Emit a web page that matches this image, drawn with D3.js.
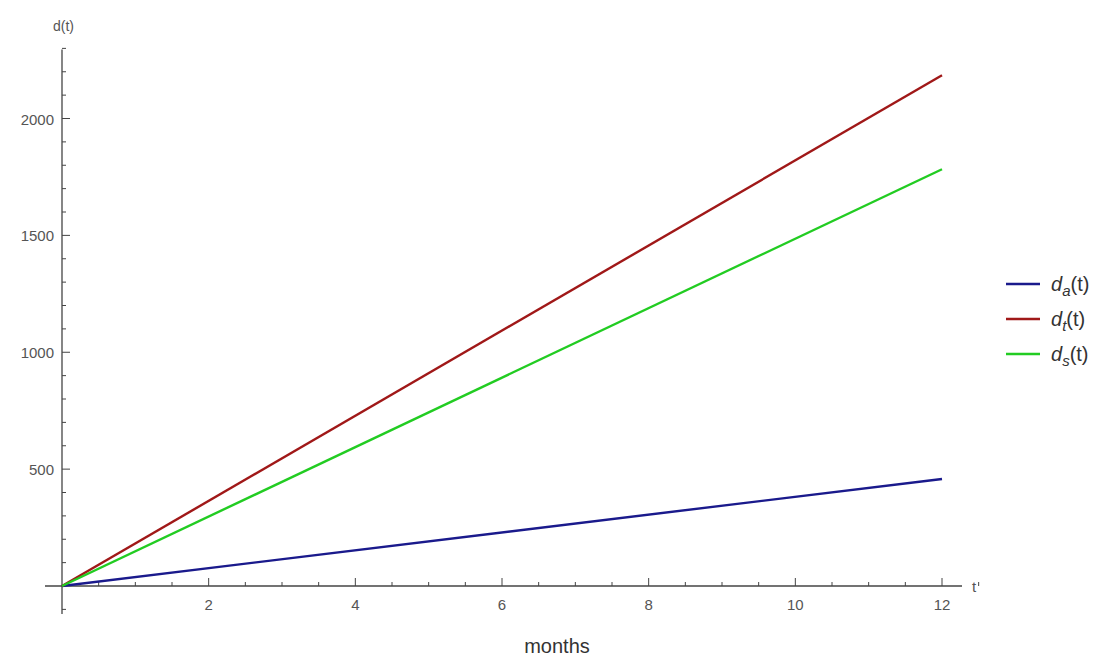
<!DOCTYPE html>
<html><head><meta charset="utf-8">
<script src="https://cdn.jsdelivr.net/npm/d3@7"></script>
<style>body{margin:0;background:#fff}text{font-family:Arial,"Liberation Sans",sans-serif}</style>
</head><body><svg id="c" width="1109" height="664"></svg>
<script>
const months = [0, 12];
const seriesNames = ["a", "t", "s"];
const da = [0, 458];
const dt = [0, 2185];
const ds = [0, 1783];
const colors = ["#1a1a8c", "#a01818", "#22cc22"];
const xTicks = [2, 4, 6, 8, 10, 12];
const yTicks = [500, 1000, 1500, 2000];

const svg = d3.select("#c");
const x = d3.scaleLinear().domain([0, 12]).range([62, 942]);
const y = d3.scaleLinear().domain([0, 2000]).range([586, 118.5]);
const axc = "#444";

svg.append("line").attr("x1", 45).attr("x2", 962).attr("y1", y(0)).attr("y2", y(0)).attr("stroke", axc).attr("stroke-width", 1.3);
d3.range(0.5, 12.6, 0.5).forEach(v => {
  const major = Math.abs(v % 2) < 1e-9;
  svg.append("line").attr("x1", x(v)).attr("x2", x(v)).attr("y1", y(0)).attr("y2", y(0) - (major ? 8 : 4)).attr("stroke", axc).attr("stroke-width", 1);
});
xTicks.forEach(v => svg.append("text").attr("x", x(v)).attr("y", y(0) + 24).attr("text-anchor", "middle").attr("font-size", 15).attr("fill", "#555").text(v));
svg.append("text").attr("x", 972).attr("y", y(0) + 6).attr("font-size", 15).attr("fill", "#555").text("t");
svg.append("text").attr("x", 557).attr("y", 653).attr("text-anchor", "middle").attr("font-size", 20).attr("fill", "#333").text("months");

svg.append("line").attr("x1", x(0)).attr("x2", x(0)).attr("y1", y(2295)).attr("y2", y(-120)).attr("stroke", axc).attr("stroke-width", 1.3);
d3.range(-100, 2301, 100).forEach(v => {
  if (v === 0) return;
  const major = v % 500 === 0;
  svg.append("line").attr("x1", x(0)).attr("x2", x(0) + (major ? 8 : 4)).attr("y1", y(v)).attr("y2", y(v)).attr("stroke", axc).attr("stroke-width", 1);
});
yTicks.forEach(v => svg.append("text").attr("x", x(0) - 8).attr("y", y(v) + 6).attr("text-anchor", "end").attr("font-size", 15).attr("fill", "#555").text(v));
svg.append("text").attr("x", x(0) + 12).attr("y", 31).attr("text-anchor", "end").attr("font-size", 14).attr("fill", "#555").text("d(t)");

const line = d3.line().x((d, i) => x(months[i])).y(d => y(d));
[da, dt, ds].forEach((s, i) => svg.append("path").datum(s).attr("d", line).attr("fill", "none").attr("stroke", colors[i]).attr("stroke-width", 2.4));

seriesNames.forEach((n, i) => {
  const ly = 284 + i * 35;
  svg.append("line").attr("x1", 1006).attr("x2", 1040).attr("y1", ly).attr("y2", ly).attr("stroke", colors[i]).attr("stroke-width", 2.4);
  const t = svg.append("text").attr("x", 1051).attr("y", ly + 7).attr("font-size", 20).attr("fill", "#333");
  t.append("tspan").attr("font-style", "italic").text("d");
  t.append("tspan").attr("font-style", "italic").attr("font-size", 15).attr("dy", 5).text(n);
  t.append("tspan").attr("dy", -5).text("(t)");
});
</script></body></html>
